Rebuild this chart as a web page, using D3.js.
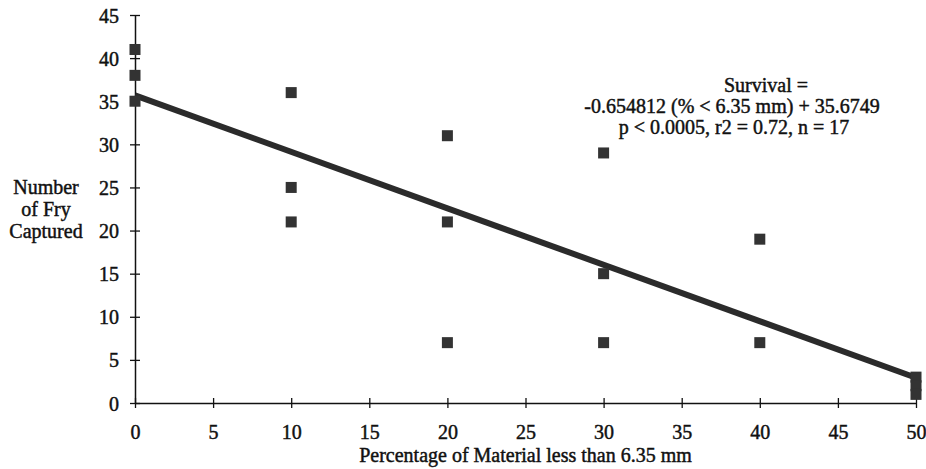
<!DOCTYPE html>
<html>
<head>
<meta charset="utf-8">
<script src="https://cdn.jsdelivr.net/npm/d3@7"></script>
<style>
  html, body { margin: 0; padding: 0; background: #fff; }
  svg { display: block; }
  text { font-family: "Liberation Serif", "Times New Roman", serif; fill: #111; stroke: #111; stroke-width: 0.45px; }
</style>
</head>
<body>
<svg id="chart" width="926" height="469"></svg>
<script>
// ---- data ----
const pctFine = [0, 0, 0, 10, 10, 10, 20, 20, 20, 30, 30, 30, 40, 40, 50, 50, 50];
const fryCaptured = [41, 38, 35, 36, 25, 21, 31, 21, 7, 29, 15, 7, 19, 7, 3, 2, 1];
const xTicks = [0, 5, 10, 15, 20, 25, 30, 35, 40, 45, 50];
const yTicks = [0, 5, 10, 15, 20, 25, 30, 35, 40, 45];
const slope = -0.654812;
const intercept = 35.6749;
const xTitle = "Percentage of Material less than 6.35 mm";
const yTitleLines = ["Number", "of Fry", "Captured"];
const noteLines = ["Survival =", "-0.654812 (% < 6.35 mm) + 35.6749", "p < 0.0005, r2 = 0.72, n = 17"];

// ---- layout ----
const svg = d3.select("#chart");
const x = d3.scaleLinear().domain([0, 50]).range([135, 916]);
const y = d3.scaleLinear().domain([0, 45]).range([403, 15]);
const fs = 20;

// x axis
const gx = svg.append("g").attr("transform", `translate(0,${y(0)})`)
  .call(d3.axisBottom(x).tickValues(xTicks).tickFormat(d3.format("d")).tickSizeOuter(0));
gx.select(".domain").attr("stroke", "#111").attr("stroke-width", 1.5);
gx.selectAll(".tick line").attr("y1", -5).attr("y2", 5).attr("stroke", "#111").attr("stroke-width", 1.3);
gx.selectAll(".tick text").attr("y", 0).attr("dy", 0).attr("transform", "translate(0,36)")
  .style("font-size", fs + "px").style("font-family", '"Liberation Serif", serif').attr("fill", "#111");

// y axis
const gy = svg.append("g").attr("transform", `translate(${x(0)},0)`)
  .call(d3.axisLeft(y).tickValues(yTicks).tickFormat(d3.format("d")).tickSizeOuter(0));
gy.select(".domain").attr("stroke", "#111").attr("stroke-width", 1.5);
gy.selectAll(".tick line").attr("x1", -5).attr("x2", 5).attr("stroke", "#111").attr("stroke-width", 1.3);
gy.selectAll(".tick text").attr("x", -16).attr("dy", 0).attr("transform", "translate(0,7)")
  .style("font-size", fs + "px").style("font-family", '"Liberation Serif", serif').attr("fill", "#111");

// regression line
const lineData = x.domain().map(v => ({ px: v, py: slope * v + intercept }));
svg.append("path")
  .datum(lineData)
  .attr("d", d3.line().x(d => x(d.px)).y(d => y(d.py)))
  .attr("stroke", "#2b2b2b").attr("stroke-width", 6).attr("fill", "none");

// points
const ms = 11;
svg.append("g").selectAll("rect")
  .data(pctFine.map((v, i) => ({ px: v, py: fryCaptured[i] })))
  .join("rect")
  .attr("x", d => x(d.px) - ms / 2)
  .attr("y", d => y(d.py) - ms / 2)
  .attr("width", ms).attr("height", ms)
  .attr("fill", "#333");

// x title
svg.append("text")
  .attr("x", (x(0) + x(50)) / 2).attr("y", 462)
  .attr("text-anchor", "middle").style("font-size", fs + "px")
  .text(xTitle);

// y title
svg.append("g").selectAll("text")
  .data(yTitleLines).join("text")
  .attr("x", 46).attr("y", (d, i) => y(25) + 7 + i * 22)
  .attr("text-anchor", "middle").style("font-size", fs + "px")
  .text(d => d);

// annotation
const noteX = [766, 732, 734];
const noteY = [92, 113, 134];
svg.append("g").selectAll("text")
  .data(noteLines).join("text")
  .attr("x", (d, i) => noteX[i]).attr("y", (d, i) => noteY[i])
  .attr("text-anchor", "middle").style("font-size", fs + "px")
  .text(d => d);
</script>
</body>
</html>
